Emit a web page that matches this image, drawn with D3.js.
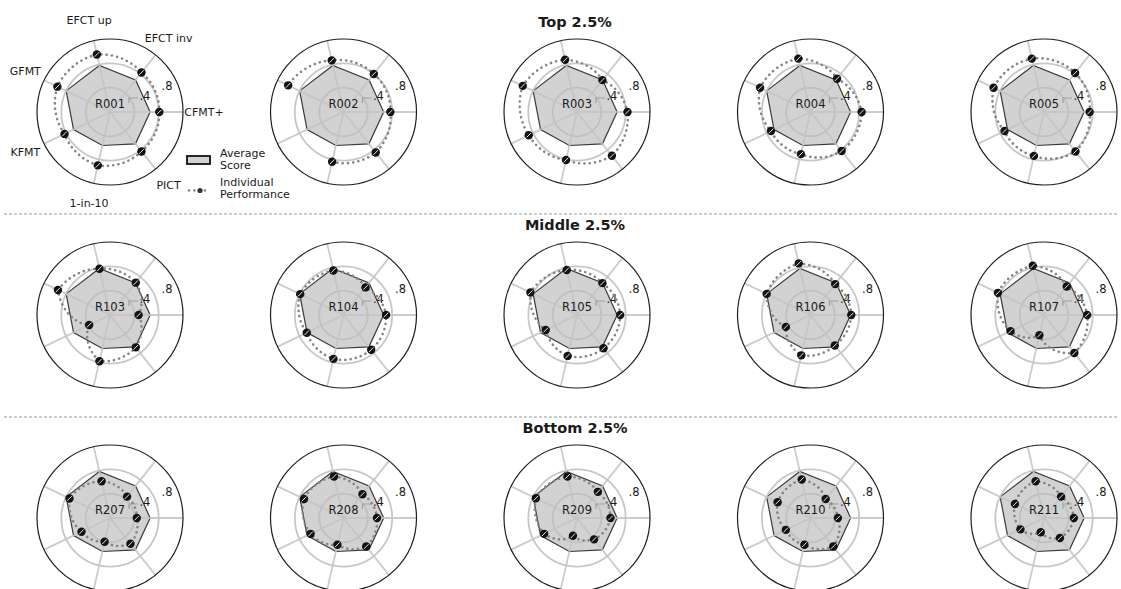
<!DOCTYPE html>
<html><head><meta charset="utf-8">
<script src="https://cdn.jsdelivr.net/npm/d3@7"></script>
<style>body{margin:0;background:#fff} svg{display:block} text{font-family:"DejaVu Sans",sans-serif;fill:#1a1a1a}</style>
</head><body><svg id="c" width="1121" height="589"></svg>
<script>
// axes in matplotlib order: theta starts east, counter-clockwise
const axes = ["CFMT+","EFCT inv","EFCT up","GFMT","KFMT","1-in-10","PICT"];
const rTicks = [0.4, 0.8];
const rTickLabels = [".4", ".8"];
const groupTitles = ["Top 2.5%","Middle 2.5%","Bottom 2.5%"];
const rowIds = [
  ["R001","R002","R003","R004","R005"],
  ["R103","R104","R105","R106","R107"],
  ["R207","R208","R209","R210","R211"]
];
const averageScore = [0.66, 0.675, 0.785, 0.80, 0.665, 0.565, 0.67];
const legendLabels = [["Average","Score"],["Individual","Performance"]];

// individual performance, same axis order
const R001 = [0.81, 0.83, 0.97, 0.96, 0.83, 0.90, 0.83];
const R002 = [0.77, 0.80, 0.87, 1.01, null, 0.84, 0.85];
const R003 = [0.83, 0.67, 0.88, 0.99, 0.88, 0.81, 0.92];
const R004 = [0.84, 0.70, 0.90, 0.92, 0.72, 0.71, 0.82];
const R005 = [0.75, 0.82, 0.90, 0.92, 0.72, 0.74, 0.83];
const R103 = [0.47, 0.68, 0.78, 0.95, 0.38, 0.78, 0.68];
const R104 = [0.70, 0.58, 0.75, 0.79, 0.67, 0.74, 0.73];
const R105 = [0.71, 0.67, 0.76, 0.85, 0.57, 0.69, 0.70];
const R106 = [0.67, 0.65, 0.87, 0.80, 0.45, 0.68, 0.64];
const R107 = [0.71, 0.60, 0.83, 0.84, 0.61, 0.34, 0.80];
const R207 = [0.44, 0.45, 0.62, 0.74, 0.52, 0.40, 0.54];
const R208 = [0.55, 0.50, 0.70, 0.72, 0.60, 0.45, 0.60];
const R209 = [0.55, 0.55, 0.70, 0.75, 0.60, 0.30, 0.45];
const R210 = [0.45, 0.40, 0.65, 0.60, 0.45, 0.45, 0.60];
const R211 = [0.49, 0.45, 0.62, 0.53, 0.43, 0.24, 0.42];
const individuals = {R001,R002,R003,R004,R005,R103,R104,R105,R106,R107,R207,R208,R209,R210,R211};

const svg = d3.select("#c");
const outerR = 73;
const rScale = d3.scaleLinear().domain([0, 1.2]).range([0, outerR]);
const xCol = d3.scaleLinear().domain([0, 4]).range([110, 1044]);
const yRow = d3.scaleLinear().domain([0, 2]).range([112, 518]);
const thetaScale = d3.scaleLinear().domain([0, axes.length]).range([0, 2 * Math.PI]);
const toD3 = t => Math.PI / 2 - t; // d3 angle: clockwise from north

// separators & titles
[0, 1].forEach(i => {
  const y = (yRow(i) + yRow(i + 1)) / 2 + 0.5;
  svg.append("line").attr("x1", 4).attr("x2", 1118).attr("y1", y).attr("y2", y)
    .attr("stroke", "#9a9a9a").attr("stroke-width", 1).attr("stroke-dasharray", "3,2");
});
groupTitles.forEach((t, i) => {
  svg.append("text").attr("x", 575).attr("y", yRow(i) - 85).attr("text-anchor", "middle")
    .attr("font-size", "14.5px").attr("font-weight", "bold").text(t);
});

const avgLine = d3.lineRadial().curve(d3.curveLinearClosed)
  .angle((d, i) => toD3(thetaScale(i))).radius(d => rScale(d));
const indLine = d3.lineRadial().defined(d => d.r != null)
  .angle(d => toD3(d.t)).radius(d => rScale(d.r));

function interp(vals) {
  const pts = [];
  const n = vals.length, steps = 24;
  for (let i = 0; i < n; i++) {
    const a = vals[i], b = vals[(i + 1) % n];
    const t0 = thetaScale(i), t1 = thetaScale(i + 1);
    if (a == null || b == null) { pts.push({t: t0, r: null}); continue; }
    for (let k = 0; k <= steps; k++) {
      const f = k / steps;
      pts.push({t: t0 + (t1 - t0) * f, r: a + (b - a) * f});
    }
  }
  return pts;
}

rowIds.forEach((row, ri) => {
  row.forEach((id, ci) => {
    const g = svg.append("g").attr("transform", `translate(${xCol(ci)},${yRow(ri)})`);
    // average polygon
    g.append("path").attr("d", avgLine(averageScore))
      .attr("fill", "#d2d2d2").attr("stroke", "#3a3a3a").attr("stroke-width", 1.2);
    // grid
    rTicks.forEach(v => g.append("circle").attr("r", rScale(v)).attr("fill", "none")
      .attr("stroke", "#bdbdbd").attr("stroke-width", 1.8).attr("opacity", 0.85));
    axes.forEach((a, i) => {
      const ang = toD3(thetaScale(i));
      g.append("line").attr("x1", 0).attr("y1", 0)
        .attr("x2", outerR * Math.sin(ang)).attr("y2", -outerR * Math.cos(ang))
        .attr("stroke", "#c4c4c4").attr("stroke-width", 1.8).attr("opacity", 0.85);
    });
    // tick labels
    rTicks.forEach((v, i) => {
      const ang = toD3(24.5 * Math.PI / 180), rr = rScale(v) + 14;
      g.append("text").attr("x", rr * Math.sin(ang)).attr("y", -rr * Math.cos(ang))
        .attr("text-anchor", "middle").attr("dominant-baseline", "central")
        .attr("font-size", "11.5px").text(rTickLabels[i]);
    });
    // small grey tick near .4
    g.append("path").attr("d", "M19,-9 L19,-14 L28,-14").attr("fill", "none")
      .attr("stroke", "#a0a0a0").attr("stroke-width", 1.2);
    // id label
    g.append("text").attr("x", 0).attr("y", -4.5).attr("text-anchor", "middle")
      .attr("font-size", "11.5px").attr("fill", "#222").text(id);
    // individual dotted path
    const vals = individuals[id];
    g.append("path").attr("d", indLine(interp(vals))).attr("fill", "none")
      .attr("stroke", "#858585").attr("stroke-width", 2.6).attr("stroke-linecap", "round")
      .attr("stroke-dasharray", "0.1 5.2");
    vals.forEach((v, i) => {
      if (v == null) return;
      const ang = toD3(thetaScale(i)), rr = rScale(v);
      const mg = g.append("g").attr("transform", `translate(${rr * Math.sin(ang)},${-rr * Math.cos(ang)})`);
      mg.append("circle").attr("r", 4.2).attr("fill", "#121212");
      mg.append("line").attr("x1", -3.2).attr("x2", 3.2).attr("y1", 0.6).attr("y2", -0.6)
        .attr("stroke", "#e8e8e8").attr("stroke-width", 0.9).attr("transform", "rotate(-35)");
    });
    // outer spine
    g.append("circle").attr("r", outerR).attr("fill", "none").attr("stroke", "#1e1e1e").attr("stroke-width", 1.2);
    // axis labels on first chart
    if (ri === 0 && ci === 0) {
      axes.forEach((a, i) => {
        const ang = toD3(thetaScale(i)), rr = outerR + 21;
        g.append("text").attr("x", rr * Math.sin(ang)).attr("y", -rr * Math.cos(ang))
          .attr("text-anchor", "middle").attr("dominant-baseline", "central")
          .attr("font-size", "11px").text(a);
      });
    }
  });
});

// legend
const lg = svg.append("g").attr("transform", "translate(187,150)");
lg.append("rect").attr("x", 0).attr("y", 6).attr("width", 23).attr("height", 8)
  .attr("fill", "#d2d2d2").attr("stroke", "#111").attr("stroke-width", 1.8);
lg.append("line").attr("x1", 2).attr("x2", 21).attr("y1", 40.5).attr("y2", 40.5)
  .attr("stroke", "#858585").attr("stroke-width", 2.6).attr("stroke-linecap", "round").attr("stroke-dasharray", "0.1 5.2");
lg.append("circle").attr("cx", 13).attr("cy", 40.5).attr("r", 2.6).attr("fill", "#333");
legendLabels.forEach((ls, i) => {
  ls.forEach((s, j) => {
    lg.append("text").attr("x", 33).attr("y", 7 + i * 29 + j * 12).attr("font-size", "11px").text(s);
  });
});
</script></body></html>
